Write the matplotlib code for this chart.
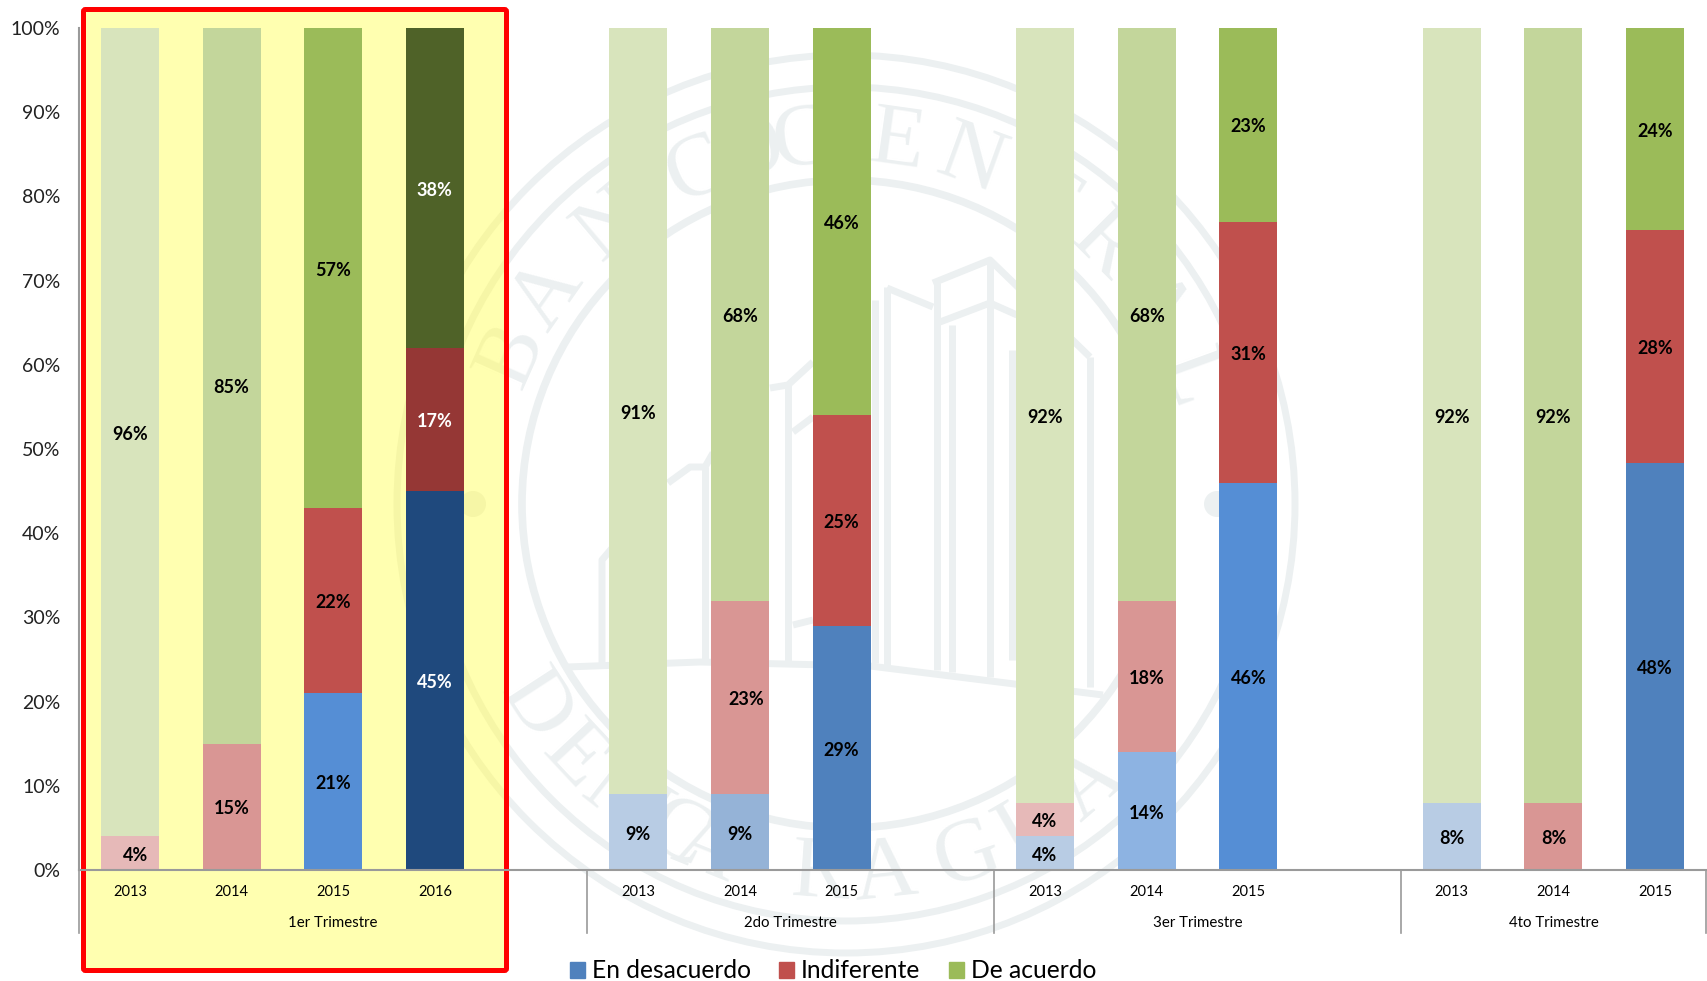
import numpy as np
import matplotlib
matplotlib.use("Agg")
import matplotlib.pyplot as plt
from matplotlib.patches import Circle, FancyBboxPatch, Patch
from matplotlib.transforms import Bbox, TransformedBbox

plt.rcParams["font.family"] = ["Lato", "DejaVu Sans"]

years = ["2013", "2014", "2015", "2016",
         "2013", "2014", "2015",
         "2013", "2014", "2015",
         "2013", "2014", "2015"]
slots = [0, 1, 2, 3, 5, 6, 7, 9, 10, 11, 13, 14, 15]
quarters = ["1er Trimestre", "2do Trimestre", "3er Trimestre", "4to Trimestre"]
quarter_centers = [2, 6.5, 10.5, 14]
quarter_edges = [-0.5, 4.5, 8.5, 12.5, 15.5]

desacuerdo = [0, 0, 21, 45, 9, 9, 29, 4, 14, 46, 8, 0, 48.3]
indiferente = [4, 15, 22, 17, 0, 23, 25, 4, 18, 31, 0, 8, 27.7]
de_acuerdo = [96, 85, 57, 38, 91, 68, 46, 92, 68, 23, 92, 92, 24]

blue_colors = ["#B8CCE4", "#95B3D7", "#558ED5", "#1F497D",
               "#B8CCE4", "#95B3D7", "#4F81BD",
               "#B8CCE4", "#8DB3E2", "#558ED5",
               "#B8CCE4", "#95B3D7", "#4F81BD"]
red_colors = ["#E6B9B8", "#D99694", "#C0504D", "#953735",
              "#E6B9B8", "#D99694", "#C0504D",
              "#E6B9B8", "#D99694", "#C0504D",
              "#E6B9B8", "#D99694", "#C0504D"]
green_colors = ["#D8E4BC", "#C3D69B", "#9BBB59", "#4F6228",
                "#D8E4BC", "#C3D69B", "#9BBB59",
                "#D8E4BC", "#C3D69B", "#9BBB59",
                "#D8E4BC", "#C3D69B", "#9BBB59"]

W, H = 1708, 981
fig = plt.figure(figsize=(W / 100, H / 100), dpi=100, facecolor="white")

# background layer in pixel coordinates: seal watermark and highlight box
bg = fig.add_axes([0, 0, 1, 1], zorder=0)
bg.set_xlim(0, W)
bg.set_ylim(H, 0)
bg.axis("off")

cx, cy = 846, 504
top_letters = list("BANCOCENTRAL")
top_angles = [156, 145, 130, 114, 105, 97, 82, 70, 57, 45, 33, 20]
bottom_letters = list("DENICARAGUA")
bottom_angles = [213, 223, 232, 238, 243, 248, 266, 276, 289, 300, 311]

# building outline, pixel paths
seal_paths = [
    ([567, 700, 870, 1103], [667, 662, 666, 695]),
    ([602, 602, 613], [663, 560, 547]),
    ([668, 690, 705, 713], [483, 467, 467, 453]),
    ([705, 705], [467, 663]),
    ([770, 788, 813], [388, 385, 362]),
    ([788, 788], [385, 663]),
    ([793, 813], [432, 417]),
    ([793, 813], [625, 620]),
    ([875, 875], [300, 663]),
    ([887, 887], [287, 665]),
    ([887, 933], [288, 307]),
    ([937, 937], [283, 670]),
    ([933, 990, 1090], [283, 260, 357]),
    ([940, 990, 1017], [322, 303, 315]),
    ([952, 952], [325, 672]),
    ([990, 990], [260, 677]),
    ([1012, 1012], [350, 660]),
    ([1090, 1090], [357, 687]),
]


def draw_seal(color, zorder, clip=None):
    arts = []
    for r, lw in [(449, 5), (417, 5), (324, 5.5)]:
        arts.append(bg.add_patch(Circle((cx, cy), r, fill=False, ec=color, lw=lw, zorder=zorder)))
    for px in [473, 1217]:
        arts.append(bg.add_patch(Circle((px, cy), 13, fc=color, ec="none", zorder=zorder)))
    for ch, a in zip(top_letters, top_angles):
        t = np.radians(a)
        arts.append(bg.text(cx + 365 * np.cos(t), cy - 365 * np.sin(t), ch, color=color,
                            fontsize=64, family="Liberation Serif", rotation=a - 90,
                            ha="center", va="center", zorder=zorder))
    for ch, a in zip(bottom_letters, bottom_angles):
        t = np.radians(a)
        arts.append(bg.text(cx + 372 * np.cos(t), cy - 372 * np.sin(t), ch, color=color,
                            fontsize=64, family="Liberation Serif", rotation=a + 90,
                            ha="center", va="center", zorder=zorder))
    for xs, ys in seal_paths:
        arts += bg.plot(xs, ys, color=color, lw=5, solid_capstyle="butt", zorder=zorder)
    if clip is not None:
        for art in arts:
            art.set_clip_on(True)
            art.set_clip_box(clip)


draw_seal("#ECF0F1", 1)

box = FancyBboxPatch((83.5, 9.5), 423, 961, boxstyle="round,pad=0,rounding_size=2",
                     fc="#FFFFB0", ec="none", zorder=2)
bg.add_patch(box)
# the seal shows through the yellow as a slightly darker shade
draw_seal("#F6F6A6", 3, clip=TransformedBbox(Bbox([[83.5, 9.5], [506.5, 970.5]]), bg.transData))
bg.add_patch(FancyBboxPatch((83.5, 9.5), 423, 961, boxstyle="round,pad=0,rounding_size=2",
                            fill=False, ec="#FF0000", lw=3.6, zorder=4))

# chart
ax = fig.add_axes([79 / W, 1 - 870 / H, (1706 - 79) / W, (870 - 28) / H], zorder=1)
ax.patch.set_alpha(0)

d = np.array(desacuerdo)
i = np.array(indiferente)
g = np.array(de_acuerdo)
width = 0.57
ax.bar(slots, d, width, color=blue_colors)
ax.bar(slots, i, width, bottom=d, color=red_colors)
ax.bar(slots, g, width, bottom=d + i, color=green_colors)

ax.set_xlim(-0.5, 15.5)
ax.set_ylim(0, 100)
ax.set_yticks(range(0, 101, 10))
ax.set_yticklabels([f"{v}%" for v in range(0, 101, 10)], fontsize=14, color="#222222")
ax.set_xticks(slots)
ax.set_xticklabels(years, fontsize=10.5, color="black")
ax.tick_params(axis="both", length=0)
ax.tick_params(axis="y", pad=13.5)
ax.tick_params(axis="x", pad=10.5)

for s in ["top", "right"]:
    ax.spines[s].set_visible(False)
ax.spines["left"].set_color("#9A9A9A")
ax.spines["bottom"].set_color("#9A9A9A")
ax.spines["left"].set_linewidth(1.5)
ax.spines["bottom"].set_linewidth(1.5)

# value labels
for n, x in enumerate(slots):
    base = 0
    for vals, name in [(d, "d"), (i, "i"), (g, "g")]:
        v = vals[n]
        if v > 0:
            dx = 0.06 if (n == 0 and name == "i") or (n == 5 and name == "i") else 0
            col = "white" if years[n] == "2016" else "black"
            ax.text(x + dx, base + v / 2 - 0.25, f"{round(v)}%", ha="center", va="center",
                    fontsize=13, fontweight="bold", color=col)
        base += v

# quarter separators and names under the axis
trans = ax.get_xaxis_transform()
for e in quarter_edges:
    ax.plot([e, e], [0, -0.0748], transform=trans, color="#9A9A9A", lw=1.2, clip_on=False)
for name, c in zip(quarters, quarter_centers):
    ax.text(c, -0.0625, name, transform=trans, ha="center", va="center", fontsize=10.8)

handles = [Patch(color="#4F81BD", label="En desacuerdo"),
           Patch(color="#C0504D", label="Indiferente"),
           Patch(color="#9BBB59", label="De acuerdo")]
fig.legend(handles=handles, loc="center", bbox_to_anchor=(833 / W, 1 - 971 / H), ncol=3,
           frameon=False, fontsize=17.7, handlelength=0.62, handleheight=0.62,
           handletextpad=0.27, columnspacing=1.16, borderpad=0, borderaxespad=0)

fig.savefig("out.png", dpi=100)
